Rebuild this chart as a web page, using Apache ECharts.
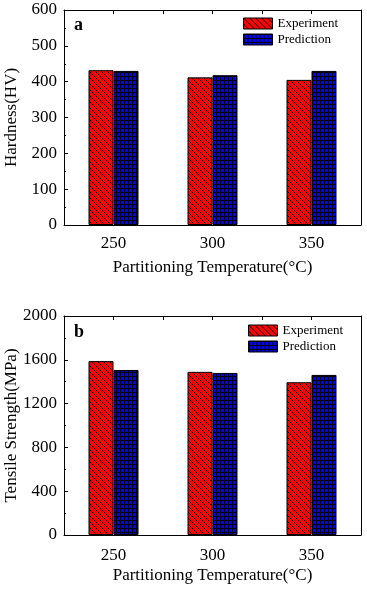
<!DOCTYPE html>
<html><head><meta charset="utf-8">
<script src="https://cdn.jsdelivr.net/npm/echarts@6/dist/echarts.min.js"></script>
<style>html,body{margin:0;padding:0;background:#fff}#c{width:367px;height:589px}</style>
</head><body><div id="c"></div>
<script>
var categories = ['250', '300', '350'];
var hardnessExp = [432, 412, 405];
var hardnessPred = [430, 418, 430];
var strengthExp = [1588, 1490, 1395];
var strengthPred = [1507, 1480, 1462];
var seriesNames = ['Experiment', 'Prediction'];

function hatch() {
  var c = document.createElement('canvas'); c.width = 6; c.height = 6;
  var g = c.getContext('2d');
  g.fillStyle = '#ff0000'; g.fillRect(0, 0, 6, 6);
  g.strokeStyle = '#000'; g.lineWidth = 1;
  g.beginPath();
  g.moveTo(-1, -1); g.lineTo(7, 7);
  g.moveTo(-1, 5); g.lineTo(1, 7);
  g.moveTo(5, -1); g.lineTo(7, 1);
  g.stroke();
  return { image: c, repeat: 'repeat' };
}
function grid() {
  var c = document.createElement('canvas'); c.width = 4; c.height = 4;
  var g = c.getContext('2d');
  g.fillStyle = '#0000ff'; g.fillRect(0, 0, 4, 4);
  g.fillStyle = '#000';
  g.fillRect(0, 0, 4, 1); g.fillRect(0, 0, 1, 4);
  return { image: c, repeat: 'repeat' };
}
var FONT = 'Liberation Serif';

var grids = [
  { left: 64, top: 10, width: 297, height: 215, outerBoundsMode: 'none', containLabel: false },
  { left: 64, top: 316, width: 297, height: 219, outerBoundsMode: 'none', containLabel: false }
];
var chart = echarts.init(document.getElementById('c'));
function xCat(i, margin, gap) {
  return {
    type: 'category', gridIndex: i, data: categories, position: 'bottom',
    axisLine: { onZero: false, lineStyle: { color: '#000', width: 1 } },
    axisTick: { show: false },
    axisLabel: { color: '#000', fontFamily: FONT, fontSize: 17, margin: margin },
    name: 'Partitioning Temperature(°C)', nameLocation: 'middle', nameGap: gap, nameMoveOverlap: false,
    nameTextStyle: { color: '#000', fontFamily: FONT, fontSize: 17 }
  };
}
function xTop(i) {
  return {
    type: 'value', gridIndex: i, position: 'top', min: 225, max: 375, interval: 25,
    axisLine: { show: true, onZero: false, lineStyle: { color: '#000' } },
    axisTick: { show: true, inside: true, length: 4, lineStyle: { color: '#000' } },
    axisLabel: { show: false }, splitLine: { show: false }
  };
}
function yVal(i, max, interval, name, gap) {
  return {
    type: 'value', gridIndex: i, min: 0, max: max, interval: interval,
    axisLine: { show: true, onZero: false, lineStyle: { color: '#000' } },
    axisTick: { show: true, inside: true, length: 4, lineStyle: { color: '#000' } },
    minorTick: { show: true, splitNumber: 2, length: 2, lineStyle: { color: '#000' } },
    axisLabel: { color: '#000', fontFamily: FONT, fontSize: 17, margin: 7,
      formatter: function (v) { return String(v); } },
    splitLine: { show: false },
    name: name, nameLocation: 'middle', nameGap: gap, nameMoveOverlap: false,
    nameTextStyle: { color: '#000', fontFamily: FONT, fontSize: 17 }
  };
}
function yRight(i, max) {
  return {
    type: 'value', gridIndex: i, min: 0, max: max, position: 'right',
    axisLine: { show: true, onZero: false, lineStyle: { color: '#000' } },
    axisTick: { show: false }, axisLabel: { show: false }, splitLine: { show: false }
  };
}
function bar(name, data, pat, xi, yi) {
  return {
    type: 'bar', name: name, data: data, xAxisIndex: xi, yAxisIndex: yi,
    barWidth: 25, barGap: '0%',
    itemStyle: { color: pat, borderColor: '#000', borderWidth: 1 }
  };
}
function legendData(suffix) {
  return [
    { name: seriesNames[0] + suffix, itemStyle: { color: hatch(), borderColor: '#000', borderWidth: 1 } },
    { name: seriesNames[1] + suffix, itemStyle: { color: grid(), borderColor: '#000', borderWidth: 1 } }
  ];
}
chart.setOption({
  animation: false,
  grid: grids,
  xAxis: [xCat(0, 10, 34), xCat(1, 12, 32), xTop(0), xTop(1)],
  yAxis: [yVal(0, 600, 100, 'Hardness(HV)', 44), yVal(1, 2000, 400, 'Tensile Strength(MPa)', 44), yRight(0, 600), yRight(1, 2000)],
  legend: [
    { data: legendData(''), left: 238, top: 12, orient: 'vertical', itemWidth: 29, itemHeight: 11, itemGap: 3,
      textStyle: { color: '#000', fontFamily: FONT, fontSize: 13 }, icon: 'rect' },
    { data: legendData(' '), left: 243, top: 319, orient: 'vertical', itemWidth: 29, itemHeight: 11, itemGap: 3,
      formatter: function (n) { return n.trim(); },
      textStyle: { color: '#000', fontFamily: FONT, fontSize: 13 }, icon: 'rect' }
  ],
  graphic: [
    { type: 'text', left: 74, top: 16, style: { text: 'a', font: 'bold 18px "Liberation Serif"', fill: '#000' } },
    { type: 'text', left: 74, top: 323, style: { text: 'b', font: 'bold 18px "Liberation Serif"', fill: '#000' } }
  ],
  series: [
    bar(seriesNames[0], hardnessExp, hatch(), 0, 0),
    bar(seriesNames[1], hardnessPred, grid(), 0, 0),
    bar(seriesNames[0] + ' ', strengthExp, hatch(), 1, 1),
    bar(seriesNames[1] + ' ', strengthPred, grid(), 1, 1)
  ]
});
</script></body></html>
